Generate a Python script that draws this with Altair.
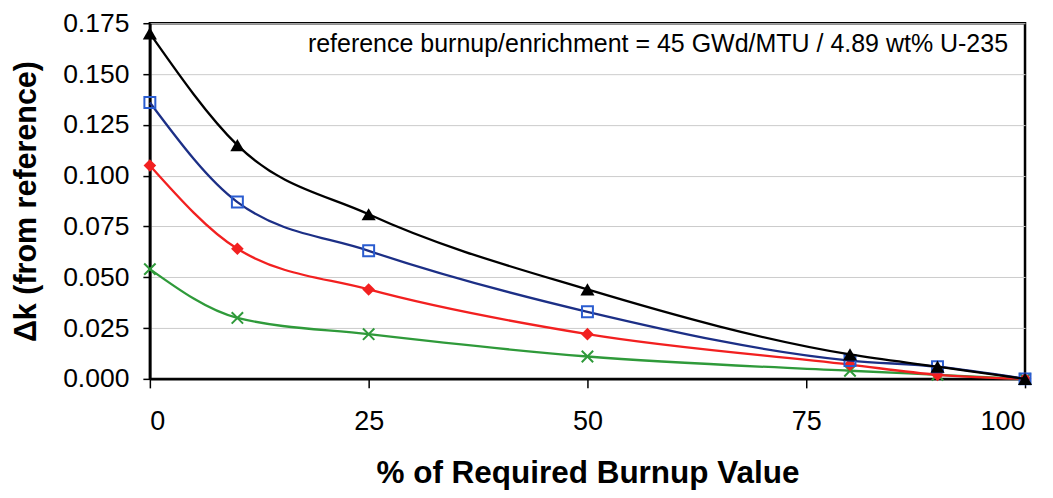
import altair as alt
import pandas as pd

# ---- data ----
burnup_pct = [0, 10, 25, 50, 80, 90, 100]
black_vals = [0.170, 0.115, 0.081, 0.044, 0.012, 0.006, 0.000]
blue_vals = [0.136, 0.087, 0.063, 0.033, 0.009, 0.006, 0.000]
red_vals = [0.105, 0.064, 0.044, 0.022, 0.007, 0.002, 0.000]
green_vals = [0.054, 0.030, 0.022, 0.011, 0.004, 0.002, 0.000]
x_ticks = [0, 25, 50, 75, 100]
y_ticks = [0.000, 0.025, 0.050, 0.075, 0.100, 0.125, 0.150, 0.175]
annotation = "reference burnup/enrichment = 45 GWd/MTU / 4.89 wt% U-235"

FONT = "Liberation Sans"

x_scale = alt.Scale(domain=[0, 100], nice=False, zero=False)
y_scale = alt.Scale(domain=[0, 0.175], nice=False)

x_axis = alt.Axis(
    values=x_ticks, title="% of Required Burnup Value", grid=False,
    labelFontSize=27, labelPadding=21, tickSize=9, tickWidth=1.5, tickColor="black",
    domainColor="black", domainWidth=2.5, labelColor="black",
    titleFontSize=31.5, titleFontWeight="bold", titleColor="black",
    titleX=438, titleY=104, titleBaseline="alphabetic", titleAlign="center",
)
y_axis = alt.Axis(
    values=y_ticks, format=".3f", title="\u0394k (from reference)",
    grid=True, gridColor="#cccccc", gridWidth=1,
    labelFontSize=26.5, labelPadding=14, tickSize=7, tickWidth=1.5, tickColor="black",
    domainColor="black", domainWidth=2.5, labelColor="black",
    titleFontSize=30.5, titleFontWeight="bold", titleColor="black",
    titleX=-123, titleY=178, titleAngle=270, titleBaseline="middle", titleAlign="center",
)

x_path = "M-1,-1L1,1M-1,1L1,-1"

specs = [
    # values, line colour, marker shape, marker filled, marker colour, size
    (green_vals, "#2f9a3a", x_path, False, "#2f9a3a", 130),
    (red_vals, "#f22020", "diamond", True, "#f22020", 160),
    (blue_vals, "#1c2f86", "square", False, "#2a5cd0", 120),
    (black_vals, "#000000", "triangle-up", True, "#000000", 200),
]

layers = []
for vals, lcol, shape, filled, mcol, size in specs:
    df = pd.DataFrame({"x": burnup_pct, "y": vals})
    base = alt.Chart(df).encode(
        x=alt.X("x:Q", scale=x_scale, axis=x_axis),
        y=alt.Y("y:Q", scale=y_scale, axis=y_axis),
    )
    line = base.mark_line(color=lcol, strokeWidth=2.3, interpolate="monotone")
    if filled:
        pts = base.mark_point(shape=shape, filled=True, color=mcol, size=size, opacity=1)
    else:
        pts = base.mark_point(shape=shape, filled=False, color=mcol, size=size,
                              strokeWidth=2, opacity=1)
    layers += [line, pts]

ann = alt.Chart(pd.DataFrame({"t": [annotation]})).mark_text(
    align="right", baseline="alphabetic", fontSize=25, color="black", font=FONT
).encode(x=alt.value(859), y=alt.value(29), text="t:N")

chart = alt.layer(*layers, ann).properties(
    width=876, height=356,
    autosize=alt.AutoSizeParams(type="none"),
    padding={"left": 142, "top": 15, "right": 20, "bottom": 111},
).configure(font=FONT).configure_view(
    stroke="black", strokeWidth=2.5
)

chart.save("out.html", embed_options={"renderer": "svg", "actions": False})
